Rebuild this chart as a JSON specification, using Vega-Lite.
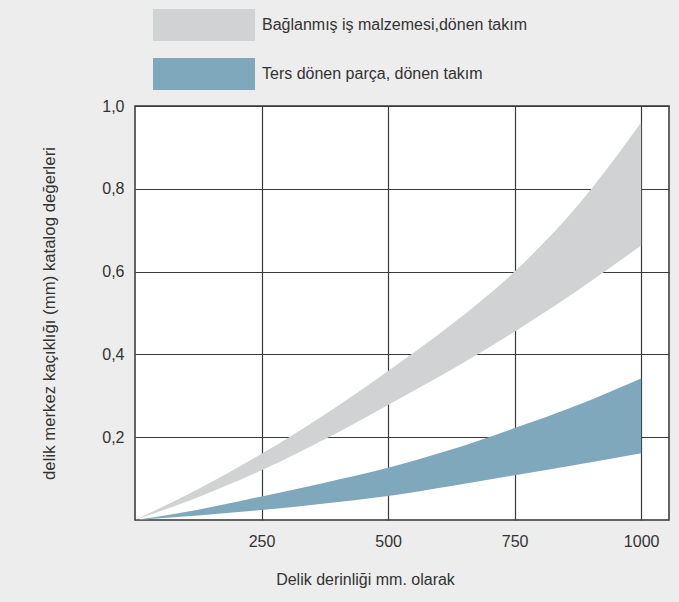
{
  "$schema": "https://vega.github.io/schema/vega-lite/v6.json",
  "width": 534,
  "height": 414,
  "autosize": {"type": "none"},
  "padding": {"left": 135, "top": 106, "right": 10, "bottom": 82},
  "background": "#ededed",
  "config": {
    "font": "Liberation Sans",
    "view": {"fill": "white", "stroke": "#333333", "strokeWidth": 1.5},
    "axis": {"zindex": 1, "gridColor": "#3a3a3a", "gridOpacity": 1, "gridWidth": 1.2, "ticks": false, "domain": false, "labelFont": "Liberation Sans", "labelFontSize": 16, "labelColor": "#333333", "titleFont": "Liberation Sans", "titleFontSize": 16, "titleFontWeight": "normal", "titleColor": "#333333"}
  },
  "data": {
    "values": [
      {"depth": 0, "series": "Bağlanmış iş malzemesi,dönen takım", "lo": 0, "hi": 0},
      {"depth": 125, "series": "Bağlanmış iş malzemesi,dönen takım", "lo": 0.055, "hi": 0.075},
      {"depth": 250, "series": "Bağlanmış iş malzemesi,dönen takım", "lo": 0.12, "hi": 0.16},
      {"depth": 375, "series": "Bağlanmış iş malzemesi,dönen takım", "lo": 0.195, "hi": 0.255},
      {"depth": 500, "series": "Bağlanmış iş malzemesi,dönen takım", "lo": 0.278, "hi": 0.36},
      {"depth": 625, "series": "Bağlanmış iş malzemesi,dönen takım", "lo": 0.363, "hi": 0.472},
      {"depth": 750, "series": "Bağlanmış iş malzemesi,dönen takım", "lo": 0.455, "hi": 0.6},
      {"depth": 875, "series": "Bağlanmış iş malzemesi,dönen takım", "lo": 0.555, "hi": 0.76},
      {"depth": 1000, "series": "Bağlanmış iş malzemesi,dönen takım", "lo": 0.663, "hi": 0.96},
      {"depth": 0, "series": "Ters dönen parça, dönen takım", "lo": 0, "hi": 0},
      {"depth": 125, "series": "Ters dönen parça, dönen takım", "lo": 0.011, "hi": 0.025},
      {"depth": 250, "series": "Ters dönen parça, dönen takım", "lo": 0.024, "hi": 0.057},
      {"depth": 375, "series": "Ters dönen parça, dönen takım", "lo": 0.04, "hi": 0.09},
      {"depth": 500, "series": "Ters dönen parça, dönen takım", "lo": 0.058, "hi": 0.126},
      {"depth": 625, "series": "Ters dönen parça, dönen takım", "lo": 0.082, "hi": 0.17},
      {"depth": 750, "series": "Ters dönen parça, dönen takım", "lo": 0.108, "hi": 0.222},
      {"depth": 875, "series": "Ters dönen parça, dönen takım", "lo": 0.134, "hi": 0.278},
      {"depth": 1000, "series": "Ters dönen parça, dönen takım", "lo": 0.161, "hi": 0.342}
    ]
  },
  "mark": {"type": "area", "interpolate": "monotone", "opacity": 1},
  "encoding": {
    "x": {
      "field": "depth", "type": "quantitative",
      "scale": {"domain": [0, 1055], "nice": false, "zero": false},
      "axis": {"values": [250, 500, 750, 1000], "format": "d", "grid": true, "labelPadding": 13, "title": "Delik derinliği mm. olarak", "titlePadding": 22, "titleX": 230, "titleAnchor": "middle"}
    },
    "y": {
      "field": "hi", "type": "quantitative",
      "scale": {"domain": [0, 1], "nice": false},
      "axis": {"values": [0.2, 0.4, 0.6, 0.8, 1.0], "grid": true, "labelPadding": 11, "labelExpr": "replace(format(datum.value, '.1f'), '.', ',')", "title": "delik merkez kaçıklığı (mm) katalog değerleri", "titleFontSize": 16.8, "titlePadding": 43}
    },
    "y2": {"field": "lo"},
    "color": {
      "field": "series", "type": "nominal",
      "scale": {"domain": ["Bağlanmış iş malzemesi,dönen takım", "Ters dönen parça, dönen takım"], "range": ["#d1d2d4", "#7fa8bc"]},
      "legend": {
        "title": null,
        "orient": "none",
        "legendX": 53,
        "legendY": -97,
        "symbolType": "M-3.1875,-1H3.1875V1H-3.1875Z",
        "symbolSize": 1024,
        "symbolStrokeWidth": 0,
        "symbolOpacity": 1,
        "labelOffset": 42,
        "labelFontSize": 16,
        "labelColor": "#333333",
        "labelFont": "Liberation Sans",
        "rowPadding": 17,
        "labelLimit": 400
      }
    }
  }
}
